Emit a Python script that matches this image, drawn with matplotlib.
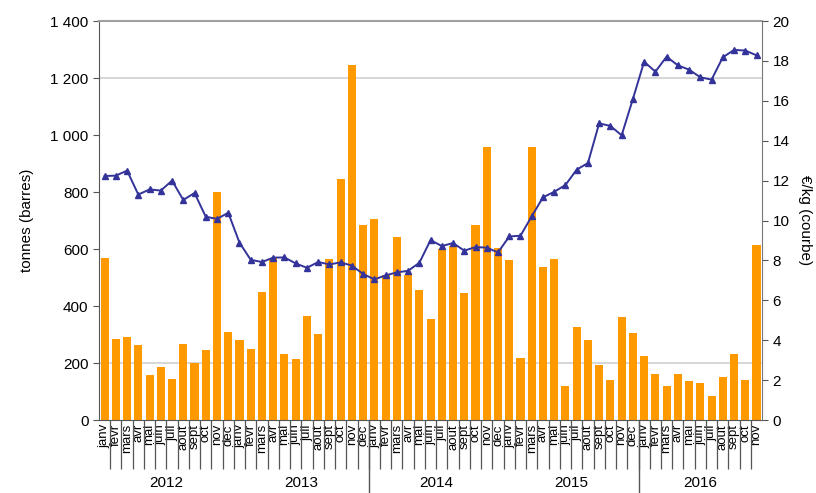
import matplotlib.pyplot as plt
import numpy as np
from matplotlib.ticker import FuncFormatter

plt.rcParams['font.family'] = ['Liberation Sans', 'DejaVu Sans']

# data
months = ['janv', 'fevr', 'mars', 'avr', 'mai', 'juin',
          'juil', 'aout', 'sept', 'oct', 'nov', 'dec']
years = ['2012', '2013', '2014', '2015', '2016']
month_labels = months * 4 + months[:11]

tonnes = [570, 285, 290, 262, 157, 185, 145, 268, 200, 245, 800, 310,
          282, 250, 450, 570, 233, 213, 365, 302, 565, 845, 1245, 685,
          705, 510, 642, 510, 455, 355, 600, 612, 445, 685, 958, 605,
          562, 218, 958, 537, 565, 120, 328, 280, 192, 142, 362, 307,
          226, 163, 120, 161, 138, 130, 85, 152, 230, 142, 615]

prix = [12.23, 12.25, 12.5, 11.3, 11.56, 11.5, 12.0, 11.03, 11.38, 10.19, 10.08, 10.39,
        8.89, 8.03, 7.92, 8.14, 8.15, 7.85, 7.63, 7.92, 7.8, 7.9, 7.74, 7.32,
        7.05, 7.25, 7.4, 7.48, 7.88, 9.02, 8.72, 8.87, 8.49, 8.67, 8.64, 8.4,
        9.2, 9.24, 10.21, 11.16, 11.44, 11.78, 12.55, 12.88, 14.87, 14.74, 14.27, 16.09,
        17.96, 17.46, 18.21, 17.78, 17.56, 17.18, 17.06, 18.18, 18.55, 18.52, 18.28]

FS = 11
MONTH_FS = 9.5
BAR_COLOR = '#FF9900'
LINE_COLOR = '#333399'

fig = plt.figure(figsize=(8.16, 4.93), dpi=100)
ax = fig.add_axes([0.1213, 0.148, 0.8127, 0.8094])
x = np.arange(len(tonnes))

# light grid lines (only the ones visible in the source)
for v in [200, 1200]:
    ax.axhline(v, color='#d0d0d0', lw=1.2, zorder=0)

ax.bar(x, tonnes, width=0.72, color=BAR_COLOR, zorder=2)
ax.set_xlim(-0.5, len(tonnes) - 0.5)
ax.set_ylim(0, 1400)
ax.set_yticks(range(0, 1401, 200))
ax.yaxis.set_major_formatter(FuncFormatter(lambda v, p: '{:,}'.format(int(v)).replace(',', ' ')))
ax.set_ylabel('tonnes (barres)', fontsize=FS, labelpad=12)
ax.tick_params(axis='y', labelsize=FS, length=4, color='#555555', direction='out')

# month labels at centres, tick lines at boundaries
ax.set_xticks(x)
ax.set_xticklabels(month_labels, rotation=90, fontsize=MONTH_FS, va='top', ha='center')
ax.tick_params(axis='x', which='major', length=0, pad=3)
ax.set_xticks(np.arange(0.5, len(tonnes) - 1, 1.0), minor=True)
ax.tick_params(axis='x', which='minor', length=35, color='#555555', width=0.9)

# year labels and separators
trans = ax.get_xaxis_transform()
for i, yr in enumerate(years):
    start = i * 12
    end = min(start + 12, len(tonnes))
    ax.text((start + end - 1) / 2, -0.158, yr, transform=trans, ha='center', va='center', fontsize=FS)
for b in [23.5, 47.5]:
    ax.plot([b, b], [0, -0.19], transform=trans, color='#555555', lw=1, clip_on=False)

for side in ['left', 'bottom']:
    ax.spines[side].set_color('#555555')
ax.spines['top'].set_color('#a0a0a0')
ax.spines['top'].set_linewidth(1.5)
ax.spines['right'].set_visible(False)

ax2 = ax.twinx()
ax2.plot(x, prix, '-^', color=LINE_COLOR, lw=1.4, markersize=4.5, zorder=3)
ax2.set_ylim(0, 20)
ax2.set_yticks(range(0, 21, 2))
ax2.tick_params(axis='y', labelsize=FS, length=4, color='#555555', direction='out')
ax2.set_ylabel('€/kg (courbe)', fontsize=FS, rotation=270, labelpad=16)
ax2.spines['right'].set_color('#777777')
for side in ['left', 'top', 'bottom']:
    ax2.spines[side].set_visible(False)

fig.savefig('out.png', dpi=100)
